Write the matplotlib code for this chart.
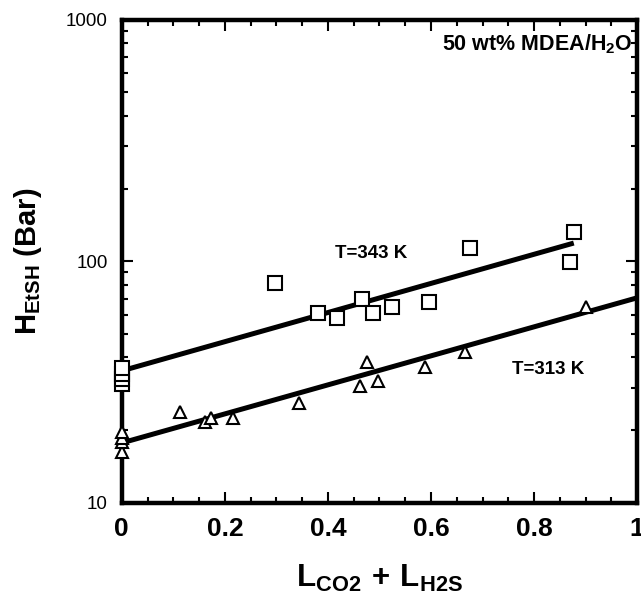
import matplotlib
matplotlib.use("Agg")
import matplotlib.pyplot as plt
from matplotlib.ticker import MultipleLocator, LogLocator, NullFormatter, FixedLocator

plt.rcParams['font.family'] = ['Liberation Sans', 'DejaVu Sans']
plt.rcParams['mathtext.fontset'] = 'custom'
plt.rcParams['mathtext.rm'] = 'Liberation Sans:bold'
plt.rcParams['mathtext.bf'] = 'Liberation Sans:bold'
plt.rcParams['mathtext.it'] = 'Liberation Sans:bold'

# T = 343 K data (squares)
x343 = [0, 0, 0, 0, 0.298, 0.381, 0.418, 0.467, 0.488, 0.525, 0.597, 0.675, 0.870, 0.877]
y343 = [31, 32.5, 34, 36, 81, 61.2, 58.3, 70, 61.2, 64.8, 68, 114, 99.5, 132]
# T = 313 K data (triangles)
x313 = [0, 0, 0, 0, 0.113, 0.161, 0.173, 0.216, 0.344, 0.463, 0.475, 0.498, 0.588, 0.665, 0.900]
y313 = [16.2, 17.8, 18.5, 19.7, 23.8, 21.6, 22.5, 22.5, 25.9, 30.5, 38.4, 32, 36.6, 42.2, 64.8]
# fitted lines (endpoints)
fit343_x = [0, 0.877]
fit343_y = [35.2, 119]
fit313_x = [0, 1.0]
fit313_y = [17.7, 70.6]

xticks = [0, 0.2, 0.4, 0.6, 0.8, 1]
xticklabels = ['0', '0.2', '0.4', '0.6', '0.8', '1']
yticks = [10, 100, 1000]
yticklabels = ['10', '100', '1000']

fig = plt.figure(figsize=(6.41, 6.0), dpi=100)
ax = fig.add_axes([0.190, 0.162, 0.804, 0.805])

ax.plot(fit343_x, fit343_y, color='black', lw=3.6, solid_capstyle='butt')
ax.plot(fit313_x, fit313_y, color='black', lw=3.6, solid_capstyle='butt')
ax.plot(x343, y343, ls='none', marker='s', ms=10, mfc='white', mec='black', mew=1.5, clip_on=False, zorder=3)
ax.plot(x313, y313, ls='none', marker='^', ms=9, mfc='white', mec='black', mew=1.5, clip_on=False, zorder=3)

ax.set_yscale('log')
ax.set_xlim(0, 1)
ax.set_ylim(10, 1000)

ax.xaxis.set_major_locator(FixedLocator(xticks))
ax.set_xticklabels(xticklabels, fontsize=19, fontweight='bold')
ax.xaxis.set_minor_locator(MultipleLocator(0.05))
ax.yaxis.set_major_locator(FixedLocator(yticks))
ax.set_yticklabels(yticklabels, fontsize=13.5)
ax.yaxis.set_minor_locator(LogLocator(base=10, subs=range(2, 10)))
ax.yaxis.set_minor_formatter(NullFormatter())

ax.tick_params(which='both', direction='in', top=True, right=True, width=1.5)
ax.tick_params(which='major', length=8)
ax.tick_params(which='minor', length=4)
ax.tick_params(axis='x', pad=10)
ax.tick_params(axis='y', pad=10)

for s in ax.spines.values():
    s.set_linewidth(3.2)

ax.set_xlabel(r'$\mathbf{L_{CO2}\,+\,L_{H2S}}$', fontsize=22.5, labelpad=16)
ax.set_ylabel(r'$\mathbf{H_{EtSH}}$ (Bar)', fontsize=21, fontweight='bold', labelpad=16)

ax.text(0.483, 108, 'T=343 K', fontsize=13.5, fontweight='bold', ha='center', va='center')
ax.text(0.827, 35.5, 'T=313 K', fontsize=13.5, fontweight='bold', ha='center', va='center')
ax.text(0.622, 790, r'50 wt% MDEA/H$_{2}$O', fontsize=15.5, fontweight='bold', ha='left', va='center')

fig.savefig('out.png', dpi=100)
